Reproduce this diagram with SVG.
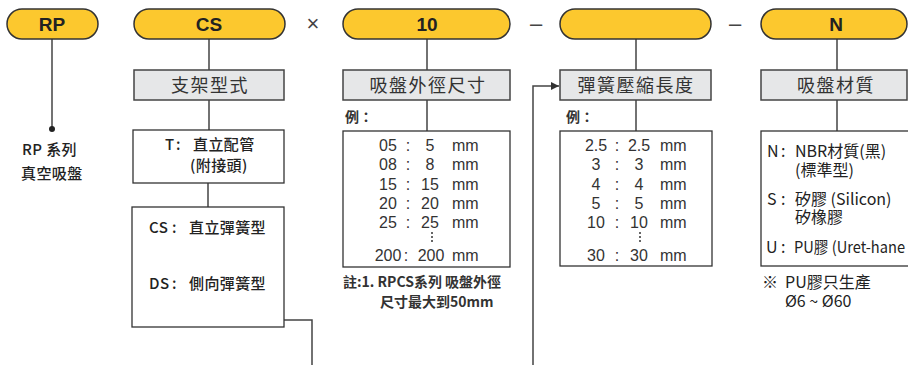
<svg xmlns="http://www.w3.org/2000/svg" width="908" height="365" viewBox="0 0 908 365">
<defs>
<style>
.pill{fill:#FCC82E;stroke:#333;stroke-width:1.5}
.gbox{fill:#E6E7E8;stroke:#444;stroke-width:1.5}
.wbox{fill:#fff;stroke:#333;stroke-width:1.3}
.ln{fill:none;stroke:#444;stroke-width:1.5}
.pt{font-family:"Liberation Sans",Arial,sans-serif;font-weight:bold;font-size:19px;fill:#222;text-anchor:middle}
.gt{font-family:"Noto Sans CJK TC","Noto Sans",sans-serif;font-size:18px;fill:#333;text-anchor:middle;letter-spacing:1.5px}
.bt{font-family:"Noto Sans CJK TC","Noto Sans",sans-serif;font-size:15px;font-weight:500;fill:#222;letter-spacing:0.4px}
.nt{font-family:"Noto Sans CJK TC","Noto Sans",sans-serif;font-size:16px;fill:#222}
.st{font-family:"Noto Sans CJK TC","Noto Sans",sans-serif;font-size:14px;font-weight:bold;fill:#333}
.tt{font-family:"Liberation Sans",Arial,sans-serif;font-size:16px;fill:#333}
.sym{font-family:"Liberation Sans",Arial,sans-serif;font-size:22px;fill:#444;text-anchor:middle}
.c{text-anchor:middle}
</style>
<marker id="ah" viewBox="0 0 10 10" refX="10" refY="5" markerWidth="8" markerHeight="8" markerUnits="userSpaceOnUse" orient="auto">
<path d="M0,0 L10,5 L0,10 Z" fill="#333"/>
</marker>
</defs>
<rect width="908" height="365" fill="#fff"/>

<g id="connectors">
<path class="ln" d="M52,39 V129"/>
<circle cx="52" cy="129" r="3" fill="#222"/>
<path class="ln" d="M209,39 V70 M209,100 V130 M208,183 V207"/>
<path class="ln" d="M284,320 H312 V365"/>
<path class="ln" d="M427,39 V70 M427,100 V131"/>
<path class="ln" d="M636,39 V70 M636,100 V131"/>
<path class="ln" d="M837,39 V70 M837,100 V131"/>
<path class="ln" d="M533,365 V86 H559" marker-end="url(#ah)"/>
</g>

<g id="sep">
<text class="sym" x="313" y="31">×</text>
<text class="sym" x="536" y="31">–</text>
<text class="sym" x="735" y="31">–</text>
</g>

<g id="pill-rp"><rect class="pill" x="7" y="9" width="91" height="30" rx="15"/><text class="pt" x="52" y="31">RP</text></g>
<g id="pill-cs"><rect class="pill" x="134" y="9" width="151" height="30" rx="15"/><text class="pt" x="209" y="31">CS</text></g>
<g id="pill-10"><rect class="pill" x="343" y="9" width="167" height="30" rx="15"/><text class="pt" x="427" y="31">10</text></g>
<g id="pill-len"><rect class="pill" x="560" y="9" width="151" height="30" rx="15"/></g>
<g id="pill-n"><rect class="pill" x="761" y="9" width="146" height="30" rx="15"/><text class="pt" x="836" y="31">N</text></g>

<g id="rp-label">
<text class="bt" x="22" y="155">RP  系列</text>
<text class="bt" x="21" y="179">真空吸盤</text>
</g>

<g id="h-type"><rect class="gbox" x="134" y="70" width="150" height="30"/><text class="gt" x="210" y="92">支架型式</text></g>
<g id="h-size"><rect class="gbox" x="343" y="70" width="167" height="30"/><text class="gt" x="428" y="92">吸盤外徑尺寸</text></g>
<g id="h-len"><rect class="gbox" x="560" y="70" width="151" height="30"/><text class="gt" x="636" y="92">彈簧壓縮長度</text></g>
<g id="h-mat"><rect class="gbox" x="761" y="70" width="146" height="30"/><text class="gt" x="836" y="92">吸盤材質</text></g>

<g id="box-t">
<rect class="wbox" x="133" y="130" width="151" height="53"/>
<text class="bt" x="165" y="150">T</text><text class="bt" x="176" y="150">:</text>
<text class="bt" x="193" y="150">直立配管</text>
<text class="bt" x="190" y="171">(附接頭)</text>
</g>

<g id="box-cs">
<rect class="wbox" x="132" y="207" width="152" height="120"/>
<text class="bt" x="149" y="233">CS</text><text class="bt" x="172" y="233">:</text>
<text class="bt" x="189" y="233">直立彈簧型</text>
<text class="bt" x="149" y="289">DS</text><text class="bt" x="172" y="289">:</text>
<text class="bt" x="189" y="289">側向彈簧型</text>
</g>

<g id="size-table">
<text class="st" x="345" y="122">例：</text>
<rect class="wbox" x="343" y="131" width="167" height="136"/>
<g class="tt">
<text class="c" x="388" y="151">05</text><text class="c" x="408" y="151">:</text><text class="c" x="430" y="151">5</text><text x="452" y="151">mm</text>
<text class="c" x="388" y="170">08</text><text class="c" x="408" y="170">:</text><text class="c" x="430" y="170">8</text><text x="452" y="170">mm</text>
<text class="c" x="388" y="190">15</text><text class="c" x="408" y="190">:</text><text class="c" x="430" y="190">15</text><text x="452" y="190">mm</text>
<text class="c" x="388" y="209">20</text><text class="c" x="408" y="209">:</text><text class="c" x="430" y="209">20</text><text x="452" y="209">mm</text>
<text class="c" x="388" y="228">25</text><text class="c" x="408" y="228">:</text><text class="c" x="430" y="228">25</text><text x="452" y="228">mm</text>
<text class="c" x="388" y="261">200</text><text class="c" x="406" y="261">:</text><text class="c" x="431" y="261">200</text><text x="452" y="261">mm</text>
</g>
<g fill="#333"><circle cx="432" cy="233" r="1"/><circle cx="432" cy="237" r="1"/><circle cx="432" cy="241" r="1"/></g>
<text class="st" x="343" y="287">註:1. RPCS系列 吸盤外徑</text>
<text class="st" x="380" y="307">尺寸最大到50mm</text>
</g>

<g id="len-table">
<text class="st" x="566" y="122">例：</text>
<rect class="wbox" x="560" y="131" width="152" height="135"/>
<g class="tt">
<text class="c" x="596" y="151">2.5</text><text class="c" x="617" y="151">:</text><text class="c" x="639" y="151">2.5</text><text x="660" y="151">mm</text>
<text class="c" x="596" y="170">3</text><text class="c" x="617" y="170">:</text><text class="c" x="639" y="170">3</text><text x="660" y="170">mm</text>
<text class="c" x="596" y="190">4</text><text class="c" x="617" y="190">:</text><text class="c" x="639" y="190">4</text><text x="660" y="190">mm</text>
<text class="c" x="596" y="209">5</text><text class="c" x="617" y="209">:</text><text class="c" x="639" y="209">5</text><text x="660" y="209">mm</text>
<text class="c" x="596" y="228">10</text><text class="c" x="617" y="228">:</text><text class="c" x="639" y="228">10</text><text x="660" y="228">mm</text>
<text class="c" x="596" y="261">30</text><text class="c" x="617" y="261">:</text><text class="c" x="639" y="261">30</text><text x="660" y="261">mm</text>
</g>
<g fill="#333"><circle cx="640" cy="233" r="1"/><circle cx="640" cy="237" r="1"/><circle cx="640" cy="241" r="1"/></g>
</g>

<g id="mat-box">
<rect class="wbox" x="761" y="131" width="150" height="135"/>
<text class="nt" x="767" y="157">N</text><text class="nt" x="781" y="157">:</text>
<text class="nt" x="795" y="157">NBR材質(黑)<tspan x="795" dy="19">(標準型)</tspan></text>
<text class="nt" x="767" y="205">S</text><text class="nt" x="781" y="205">:</text>
<text class="nt" x="795" y="205">矽膠 (Silicon)<tspan x="795" dy="18">矽橡膠</tspan></text>
<text class="nt" x="766" y="253">U</text><text class="nt" x="781" y="253">:</text>
<text class="nt" x="794" y="253" textLength="111" lengthAdjust="spacingAndGlyphs">PU膠 (Uret-hane</text>
<text class="nt" x="762" y="288">※</text>
<text class="nt" x="785" y="288">PU膠只生產<tspan x="785" dy="19">Ø6 ~ Ø60</tspan></text>
</g>
</svg>
